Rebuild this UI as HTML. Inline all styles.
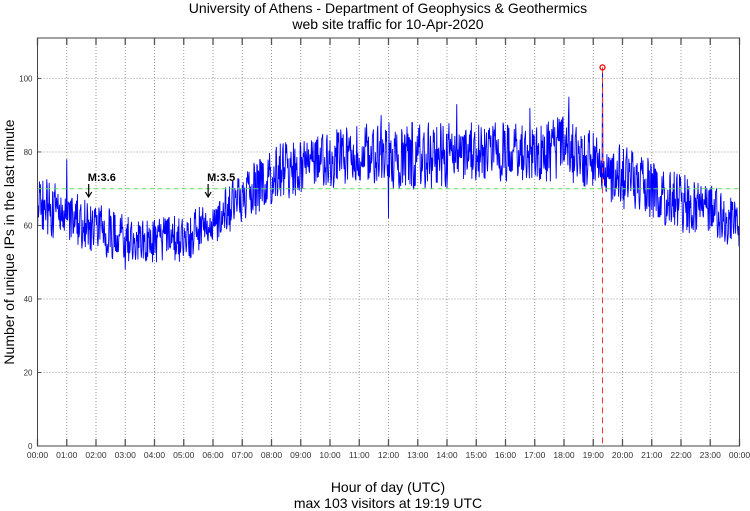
<!DOCTYPE html>
<html><head><meta charset="utf-8"><style>
body{margin:0;background:#fff;}
svg{display:block;font-family:"Liberation Sans",sans-serif;}
</style></head><body>
<svg id="chart" width="750" height="511"></svg>
<script>
// data (hourly envelope of unique IPs per minute)
const hours = [0,1,2,3,4,5,6,7,8,9,10,11,12,13,14,15,16,17,18,19,20,21,22,23,24];
const lowVals = [58,55,52,50,50,50,55,60,66,68,70,72,70,70,70,72,72,72,72,70,64,62,58,56,54];
const highVals = [74,70,66,63,62,63,68,74,82,84,86,88,88,88,88,88,88,88,90,86,82,78,74,72,66];
const spikeMins = [60,180,400,520,705,720,860,1010,1090,1159];
const spikeVals = [78,48,72,80,90,62,93,92,95,103];
const yTicks = [0,20,40,60,80,100];
const xTickLabels = ["00:00","01:00","02:00","03:00","04:00","05:00","06:00","07:00","08:00","09:00","10:00","11:00","12:00","13:00","14:00","15:00","16:00","17:00","18:00","19:00","20:00","21:00","22:00","23:00","00:00"];
const refLevel = 70;
const peakMin = 1159, peakVal = 103;
const quakeMins = [105,350];
const quakeLabels = ["M:3.6","M:3.5"];

const L=37.5,R=739.5,T=38,B=446,YMAX=111;
const xS=m=>L+(R-L)*m/1440;
const yS=v=>B-(B-T)*v/YMAX;
const svg=document.getElementById('chart');
const NS='http://www.w3.org/2000/svg';
function mk(tag,attrs,parent){const e=document.createElementNS(NS,tag);for(const k in attrs)e.setAttribute(k,attrs[k]);(parent||svg).appendChild(e);return e;}

yTicks.forEach(v=>{
 if(v>0){const g=mk('line',{x1:L,x2:R,y1:yS(v),y2:yS(v),stroke:'#999','stroke-dasharray':'1,2'});
 
 }
 mk('line',{x1:L,x2:L+4,y1:yS(v),y2:yS(v),stroke:'#555'});
 const t=mk('text',{x:L-5,y:yS(v)+3,'font-size':'8','text-anchor':'end',fill:'#333'});t.textContent=v;
 
 
});
xTickLabels.forEach((lab,i)=>{
 const x=xS(i*60);
 if(i>0&&i<24){const g=mk('line',{x1:x,x2:x,y1:T,y2:B,stroke:'#999','stroke-dasharray':'1,2'});
 
 }
 mk('line',{x1:x,x2:x,y1:B,y2:B-7,stroke:'#555','stroke-width':1.3});
 mk('line',{x1:x,x2:x,y1:T,y2:T+7,stroke:'#555','stroke-width':1.3});
 const t=mk('text',{x:x,y:B+12,'font-size':'8.5','text-anchor':'middle',fill:'#333'});t.textContent=lab;
 
 
});

function env(arr,m){const h=m/60,i=Math.min(23,Math.floor(h)),f=h-i;return arr[i]*(1-f)+arr[i+1]*f;}
let pts=[];
for(let m=0;m<1440;m++){
 const lo=env(lowVals,m),hi=env(highVals,m);
 const k=((m*131+m*m*17+(m>>3)*29)%101)/100;
 let v=lo+(hi-lo)*k;
 const si=spikeMins.indexOf(m); if(si>=0)v=spikeVals[si];
 pts.push(xS(m).toFixed(2)+','+yS(v).toFixed(2));
}
const line=mk('polyline',{points:pts.join(' '),fill:'none',stroke:'#0000ff','stroke-width':0.9});



const ref=mk('line',{x1:L,x2:R,y1:yS(refLevel),y2:yS(refLevel),stroke:'#66dd66','stroke-dasharray':'5,3'});



const pk=mk('line',{x1:xS(peakMin),x2:xS(peakMin),y1:yS(peakVal),y2:B,stroke:'#ff3333','stroke-dasharray':'6,4'});


const pc=mk('circle',{cx:xS(peakMin),cy:yS(peakVal),r:2.5,fill:'none',stroke:'#ff0000','stroke-width':1.3});



quakeMins.forEach((m,i)=>{
 const x=xS(m);
 const t=mk('text',{x:x-1,y:181,'font-size':'11','font-weight':'bold',fill:'#000'});t.textContent=quakeLabels[i];
 
 
 const a=mk('path',{d:`M${x} 184 V197 M${x-3} 192 L${x} 197 L${x+3} 192`,fill:'none',stroke:'#000','stroke-width':1.2});
 
 
});

const fr=mk('rect',{x:L,y:T,width:R-L,height:B-T,fill:'none',stroke:'#444','stroke-width':1});



function txt(s,attrs,name){const t=mk('text',attrs);t.textContent=s;
 
 }
txt('University of Athens - Department of Geophysics & Geothermics',{x:388,y:13,'font-size':'14','text-anchor':'middle'},'chart-title');
txt('web site traffic for 10-Apr-2020',{x:388,y:29,'font-size':'14','text-anchor':'middle'},'chart-subtitle');
txt('Hour of day (UTC)',{x:388,y:492,'font-size':'14','text-anchor':'middle'},'x-axis-title');
txt('max 103 visitors at 19:19 UTC',{x:388,y:508,'font-size':'14','text-anchor':'middle'},'max-caption');
txt('Number of unique IPs in the last minute',{x:0,y:0,'font-size':'14','text-anchor':'middle',transform:'translate(14,242) rotate(-90)'},'y-axis-title');
</script>
</body></html>
